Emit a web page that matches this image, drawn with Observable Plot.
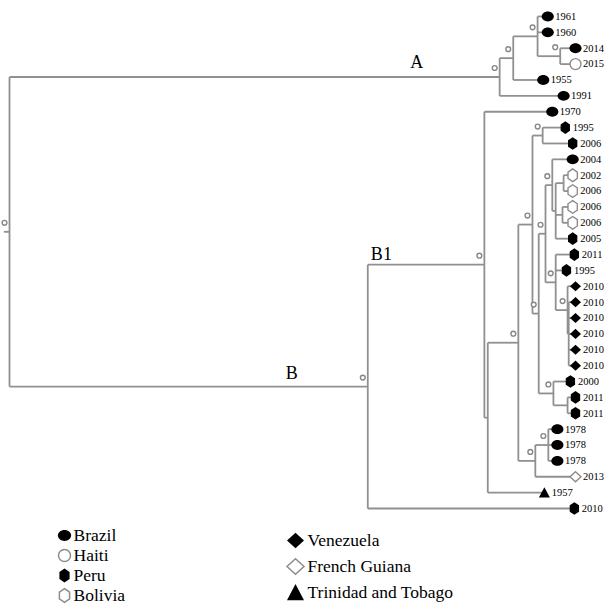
<!DOCTYPE html>
<html><head><meta charset="utf-8">
<script src="https://cdn.jsdelivr.net/npm/d3@7"></script>
<script src="https://cdn.jsdelivr.net/npm/@observablehq/plot@0.6"></script>
<style>
body{margin:0;background:#fff;font-family:"Liberation Serif","Times New Roman",serif;}
#legend{display:flex;}
svg{overflow:visible;display:block;}
</style></head><body><div id="chart"></div><div id="legend"></div>
<script>
// ---- data ----
const countries = ["Brazil","Haiti","Peru","Bolivia","Venezuela","French Guiana","Trinidad and Tobago"];

const nodeIds     = ["R","A0","A1","A2","A3","B","B1","N1","N2","N3","N5","N6","M1","N9","N13","P1","P2","M2","Q2","Q3","N7","N8","N4","S"];
const nodeParents = [null,"R","A0","A1","A2","R","B","B1","N1","N2","N3","N3","N6","M1","N9","N13","N13","M1","M2","Q2","N6","N7","N2","N4"];
const nodeDepths  = [0,0.866,0.890,0.933,0.973,0.633,0.839,0.845,0.899,0.924,0.942,0.935,0.947,0.959,0.965,0.979,0.977,0.965,0.986,0.988,0.961,0.986,0.929,0.952];
const nodeSupport = [1,1,1,1,1,1,1,0,1,1,1,1,1,1,0,0,0,1,1,0,1,0,1,1];
const rootBranch = 0.01;

const leafYears = ["1961","1960","2014","2015","1955","1991","1970","1995","2006","2004","2002","2006","2006","2006","2005","2011","1995","2010","2010","2010","2010","2010","2010","2000","2011","2011","1978","1978","1978","2013","1957","2010"];
const leafCountries = ["Brazil","Brazil","Brazil","Haiti","Brazil","Brazil","Brazil","Peru","Peru","Brazil","Bolivia","Bolivia","Bolivia","Bolivia","Peru","Peru","Peru","Venezuela","Venezuela","Venezuela","Venezuela","Venezuela","Venezuela","Peru","Peru","Peru","Brazil","Brazil","Brazil","French Guiana","Trinidad and Tobago","Peru"];
const leafParents = ["A2","A2","A3","A3","A1","A0","B1","N5","N5","N9","P1","P1","P2","P2","N13","M2","M2","Q2","Q3","Q3","Q3","Q3","Q3","N7","N8","N8","S","S","S","N4","N1","B"];
const leafDepths = [0.951,0.951,1.000,1.000,0.943,0.979,0.959,0.982,0.995,0.995,0.995,0.995,0.995,0.995,0.995,0.998,0.984,1.000,1.000,1.000,1.000,1.000,1.000,0.991,1.000,1.000,0.968,0.968,0.968,1.000,0.945,0.998];

const cladeNames = ["A","B","B1"];
const cladeNodes = ["A0","B","B1"];

const legendLeft  = ["Brazil","Haiti","Peru","Bolivia"];
const legendRight = ["Venezuela","French Guiana","Trinidad and Tobago"];

// ---- symbols ----
const K = 0.5523;
const symEllipse = {draw(c,s){const r=Math.sqrt(s/Math.PI),rx=r*1.1,ry=r*0.9;
  c.moveTo(rx,0);c.bezierCurveTo(rx,ry*K,rx*K,ry,0,ry);c.bezierCurveTo(-rx*K,ry,-rx,ry*K,-rx,0);
  c.bezierCurveTo(-rx,-ry*K,-rx*K,-ry,0,-ry);c.bezierCurveTo(rx*K,-ry,rx,-ry*K,rx,0);c.closePath();}};
const symCircle = {draw(c,s){const r=Math.sqrt(s/Math.PI);c.moveTo(r,0);c.arc(0,0,r,0,2*Math.PI);c.closePath();}};
const symHex = {draw(c,s){const r=Math.sqrt(s/Math.PI),w=r*0.85,h=r*1.15;
  c.moveTo(0,-h);c.lineTo(w,-h/2);c.lineTo(w,h/2);c.lineTo(0,h);c.lineTo(-w,h/2);c.lineTo(-w,-h/2);c.closePath();}};
const symDiamond = {draw(c,s){const r=Math.sqrt(s/Math.PI),h=r*0.92;
  c.moveTo(0,-h);c.lineTo(r,0);c.lineTo(0,h);c.lineTo(-r,0);c.closePath();}};
const symTriangle = {draw(c,s){const r=Math.sqrt(s/Math.PI);
  c.moveTo(0,-r);c.lineTo(r,r*0.9);c.lineTo(-r,r*0.9);c.closePath();}};
const symbolRange = [symEllipse,symCircle,symHex,symHex,symDiamond,symDiamond,symTriangle];
const hollow = new Set(["Haiti","Bolivia","French Guiana"]);
const GRAY = "#8c8c8c";
const fillOf = c => hollow.has(c) ? "white" : "black";
const strokeOf = c => hollow.has(c) ? GRAY : "none";

// ---- build tree ----
const depth = new Map(), parent = new Map(), children = new Map(), yOf = new Map();
nodeIds.forEach((id,i)=>{depth.set(id,nodeDepths[i]);parent.set(id,nodeParents[i]);children.set(id,[]);});
const leaves = leafYears.map((yr,i)=>({id:"L"+i,year:yr,country:leafCountries[i],depth:leafDepths[i],parent:leafParents[i],y:i}));
leaves.forEach(l=>{depth.set(l.id,l.depth);parent.set(l.id,l.parent);yOf.set(l.id,l.y);children.get(l.parent).push(l.id);});
nodeIds.forEach((id,i)=>{if(nodeParents[i]) children.get(nodeParents[i]).push(id);});
function computeY(id){
  if(yOf.has(id)) return yOf.get(id);
  const ys = children.get(id).map(computeY);
  const y = (d3.min(ys)+d3.max(ys))/2; yOf.set(id,y); return y;
}
computeY("R");
const allIds = [...nodeIds, ...leaves.map(l=>l.id)];
const hEdges = allIds.filter(id=>parent.get(id)).map(id=>({x1:depth.get(parent.get(id)),x2:depth.get(id),y:yOf.get(id)}));
hEdges.push({x1:-rootBranch,x2:0,y:yOf.get("R")});
const vEdges = nodeIds.map(id=>{const ys=children.get(id).map(c=>yOf.get(c));return {x:depth.get(id),y1:d3.min(ys),y2:d3.max(ys)};});
const supported = nodeIds.filter((id,i)=>nodeSupport[i]).map(id=>({x:depth.get(id),y:yOf.get(id)}));
const clades = cladeNames.map((n,i)=>({name:n,x:depth.get(cladeNodes[i]),y:yOf.get(cladeNodes[i])}));

const FONT = "Liberation Serif, Times New Roman, serif";
const labelDx = {A:-83, B:-76, B1:-103};
const labelDy = {A:-15, B:-13, B1:-10};

const tree = Plot.plot({
  width:604, height:522, margin:0,
  x:{domain:[0,1],range:[9,575],axis:null},
  y:{domain:[0,31],range:[16,508],axis:null},
  color:{type:"identity"},
  symbol:{domain:countries,range:symbolRange},
  style:{fontFamily:FONT,background:"white"},
  marks:[
    Plot.link(hEdges,{x1:"x1",x2:"x2",y1:"y",y2:"y",stroke:"#909090",strokeWidth:1.8}),
    Plot.link(vEdges,{x1:"x",x2:"x",y1:"y1",y2:"y2",stroke:"#909090",strokeWidth:1.8}),
    Plot.dot(supported,{x:"x",y:"y",r:2.4,dx:-5,dy:-9,stroke:"#888",fill:"white",strokeWidth:1.4}),
    Plot.dot(leaves,{x:"depth",y:"y",symbol:"country",r:5.5,fill:d=>fillOf(d.country),stroke:d=>strokeOf(d.country),strokeWidth:1.4}),
    Plot.text(leaves,{x:"depth",y:"y",text:"year",dx:7.5,textAnchor:"start",fontSize:10.5,fill:"black",fontFamily:FONT}),
    ...clades.map(c=>Plot.text([c],{x:"x",y:"y",text:"name",dx:labelDx[c.name],dy:labelDy[c.name],fontSize:18,fill:"black",fontFamily:FONT}))
  ]
});
document.getElementById("chart").append(tree);

function legendPlot(list, w, xr, yr, r, tdx){
  return Plot.plot({
    width:w, height:84, margin:0,
    x:{domain:[0,1],range:xr,axis:null},
    y:{type:"point",domain:list,range:yr,padding:0,axis:null},
    color:{type:"identity"},
    symbol:{domain:countries,range:symbolRange},
    style:{fontFamily:FONT,background:"white"},
    marks:[
      Plot.dot(list,{x:d=>0,y:d=>d,symbol:d=>d,r:r,fill:d=>fillOf(d),stroke:d=>strokeOf(d),strokeWidth:1.5}),
      Plot.text(list,{x:d=>0,y:d=>d,text:d=>d,dx:tdx,textAnchor:"start",fontSize:17.5,fill:"black",fontFamily:FONT})
    ]
  });
}
const lg = document.getElementById("legend");
lg.append(legendPlot(legendLeft,290,[64,280],[12,74],6,9));
lg.append(legendPlot(legendRight,314,[5,300],[17,70],8.5,12));
</script></body></html>
